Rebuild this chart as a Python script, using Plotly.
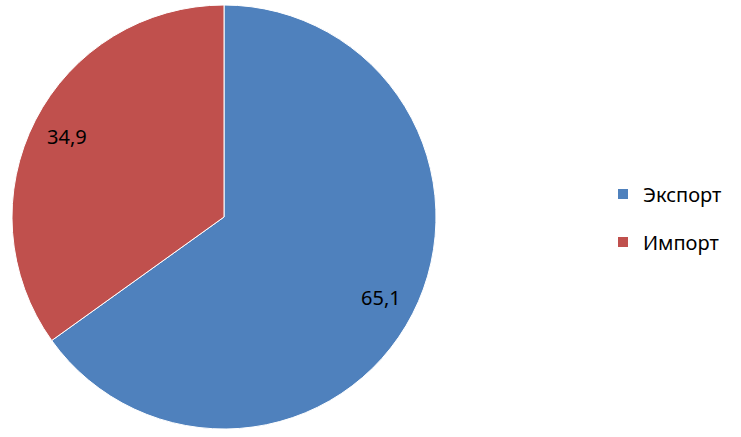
import math
import plotly.graph_objects as go

labels = ["Экспорт", "Импорт"]
values = [65.1, 34.9]
colors = ["#4F81BD", "#C0504D"]

W, H = 741, 437
cx_px, cy_px, r_px = 224, 217, 212

fig = go.Figure()
fig.add_trace(go.Pie(
    labels=labels, values=values, sort=False, direction="clockwise", rotation=0,
    marker=dict(colors=colors, line=dict(color="white", width=1)),
    textinfo="none", hoverinfo="label+value", showlegend=False,
    domain=dict(x=[(cx_px - r_px) / W, (cx_px + r_px) / W],
                y=[1 - (cy_px + r_px) / H, 1 - (cy_px - r_px) / H]),
))

# legend entries
for i, (lab, col) in enumerate(zip(labels, colors)):
    fig.add_trace(go.Scatter(x=[None], y=[None], mode="markers", name=lab,
                             legendgroup=f"g{i}",
                             marker=dict(symbol="square", size=10, color=col)))

# data labels placed along slice bisectors
total = sum(values)
cum = 0
for v in values:
    mid = (cum + v / 2) / total * 2 * math.pi
    cum += v
    px = cx_px + 0.83 * r_px * math.sin(mid)
    py = cy_px - 0.83 * r_px * math.cos(mid)
    fig.add_annotation(x=px / W, y=1 - py / H, xref="paper", yref="paper",
                       xanchor="center", yanchor="middle",
                       text=f"{v:.1f}".replace(".", ","), showarrow=False,
                       font=dict(size=20, color="black"))

fig.update_layout(
    width=W, height=H, margin=dict(l=0, r=0, t=0, b=0),
    paper_bgcolor="white", plot_bgcolor="white",
    font=dict(family="Noto Sans, Liberation Sans, Arial, sans-serif", size=20, color="black"),
    xaxis=dict(visible=False), yaxis=dict(visible=False),
    legend=dict(x=603 / W, y=1 - 218 / H, xanchor="left", yanchor="middle",
                tracegroupgap=19, itemwidth=30, font=dict(size=20),
                bgcolor="rgba(0,0,0,0)"),
)
fig.write_html("out.html", config={"displayModeBar": False},
               post_script="document.body.style.margin='0';document.body.style.padding='0';")
